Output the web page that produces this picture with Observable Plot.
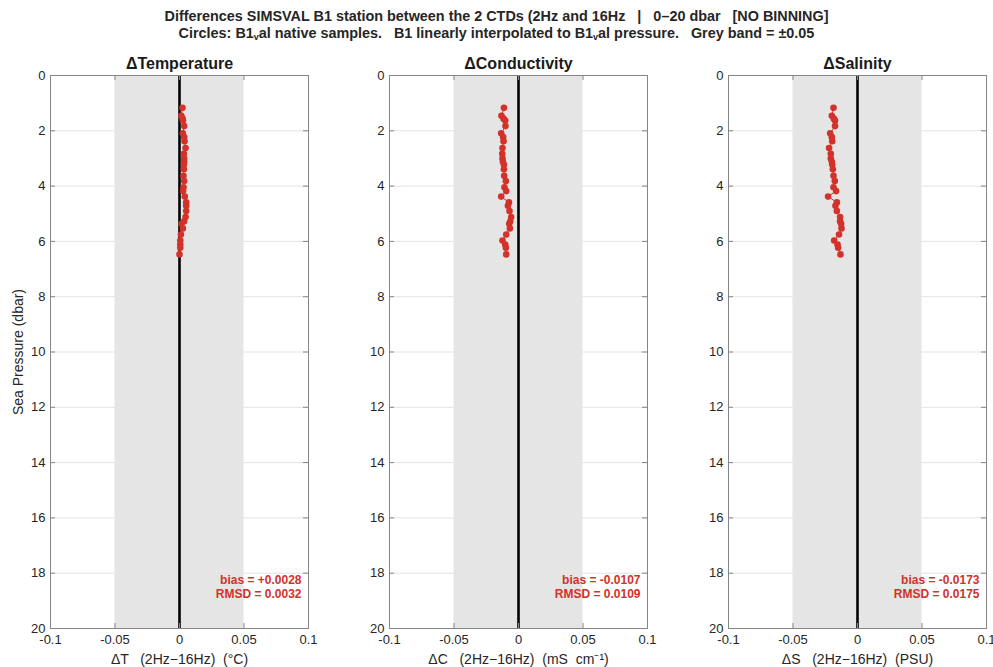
<!DOCTYPE html>
<html>
<head>
<meta charset="utf-8">
<script src="https://cdn.jsdelivr.net/npm/d3@7"></script>
<script src="https://cdn.jsdelivr.net/npm/@observablehq/plot@0.6"></script>
<style>
  html, body { margin: 0; padding: 0; background: #ffffff; }
  #wrap { position: relative; width: 993px; height: 667px; overflow: hidden; font-family: "Liberation Sans", Arial, sans-serif; color: #262626; }
  #title { position: absolute; left: 0; top: 8px; width: 993px; text-align: center; font-weight: bold; font-size: 14.4px; line-height: 17px; color: #262626; white-space: pre; }
  #title sub { font-size: 9px; vertical-align: -2px; line-height: 0; }
</style>
</head>
<body>
<div id="wrap">
  <div id="title">Differences SIMSVAL B1 station between the 2 CTDs (2Hz and 16Hz   |   0–20 dbar   [NO BINNING]
Circles: B1<sub>v</sub>al native samples.   B1 linearly interpolated to B1<sub>v</sub>al pressure.   Grey band = ±0.05</div>
</div>
<script>
// ---- data ----
const pressure = [1.17,1.46,1.56,1.63,1.83,2.09,2.23,2.38,2.62,2.83,3.00,3.12,3.22,3.39,3.63,3.82,4.04,4.18,4.38,4.59,4.71,4.90,5.12,5.27,5.36,5.53,5.75,5.97,6.11,6.23,6.47];
const dTemp = [0.0023,0.0014,0.0024,0.0027,0.0036,0.0026,0.0036,0.0039,0.0047,0.0034,0.0036,0.0036,0.0034,0.0034,0.0031,0.0036,0.0031,0.0028,0.0041,0.0052,0.0052,0.0052,0.0047,0.0036,0.0016,0.0026,0.0011,0.0006,0.0006,0.0006,0.0000];
const dCond = [-0.0113,-0.0132,-0.0116,-0.0103,-0.0101,-0.0134,-0.0119,-0.0116,-0.0124,-0.0126,-0.0124,-0.0121,-0.0113,-0.0113,-0.0111,-0.0098,-0.0109,-0.0095,-0.0134,-0.0074,-0.0082,-0.0070,-0.0057,-0.0064,-0.0072,-0.0067,-0.0095,-0.0124,-0.0103,-0.0098,-0.0095];
const dSal = [-0.0186,-0.0199,-0.0184,-0.0174,-0.0174,-0.0212,-0.0199,-0.0196,-0.0220,-0.0207,-0.0207,-0.0199,-0.0196,-0.0191,-0.0186,-0.0176,-0.0186,-0.0166,-0.0228,-0.0160,-0.0171,-0.0160,-0.0135,-0.0135,-0.0127,-0.0124,-0.0143,-0.0181,-0.0155,-0.0150,-0.0132];
const panelTitles = ["ΔTemperature", "ΔConductivity", "ΔSalinity"];
const xLabels = ["ΔT   (2Hz−16Hz)  (°C)", "ΔC   (2Hz−16Hz)  (mS  cm⁻¹)", "ΔS   (2Hz−16Hz)  (PSU)"];
const biasLabels = ["bias = +0.0028", "bias = -0.0107", "bias = -0.0173"];
const rmsdLabels = ["RMSD = 0.0032", "RMSD = 0.0109", "RMSD = 0.0175"];
const xTicks = [-0.1, -0.05, 0, 0.05, 0.1];
const yTicks = [0, 2, 4, 6, 8, 10, 12, 14, 16, 18, 20];
const bandHalf = 0.05;
const yLabel = "Sea Pressure (dbar)";

// ---- layout ----
const series = [dTemp, dCond, dSal];
const lefts = [0, 331, 662];
const marginLefts = [50, 58, 66];
const plotW = 258, plotH = 553, svgW = 331, svgH = 617;
const red = "#d2322a";
const frameColor = "#858585";
const font = "'Liberation Sans', Arial, sans-serif";

const wrap = document.getElementById("wrap");
series.forEach((vals, i) => {
  const data = pressure.map((p, k) => ({p, v: vals[k]}));
  const L = marginLefts[i];
  const marks = [
    Plot.gridY(yTicks, {stroke: "#e3e3e3", strokeOpacity: 1}),
    Plot.rect([{a: -bandHalf, b: bandHalf}], {x1: "a", x2: "b", y1: () => yTicks[0], y2: () => yTicks[yTicks.length - 1], fill: "#e5e5e5"}),
    Plot.ruleX([0], {stroke: "#000", strokeWidth: 2.6}),
    Plot.line(data, {x: "v", y: "p", stroke: red, strokeWidth: 1}),
    Plot.dot(data, {x: "v", y: "p", r: 3.3, fill: red, stroke: "none"}),
    Plot.tickY(yTicks, {y: d => d, stroke: frameColor, insetRight: plotW - 5}),
    Plot.tickY(yTicks, {y: d => d, stroke: frameColor, insetLeft: plotW - 5}),
    Plot.tickX(xTicks, {x: d => d, stroke: frameColor, insetBottom: plotH - 5}),
    Plot.tickX(xTicks, {x: d => d, stroke: frameColor, insetTop: plotH - 5}),
    Plot.frame({stroke: frameColor, strokeWidth: 1}),
    Plot.axisX(xTicks, {tickSize: 0, tickPadding: 6, tickFormat: d => String(d), fontSize: 13, fill: "#262626", label: null}),
    Plot.axisY(yTicks, {tickSize: 0, tickPadding: 5, fontSize: 13, fill: "#262626", label: null}),
    Plot.text([panelTitles[i]], {text: d => d, frameAnchor: "top", lineAnchor: "middle", dy: -12, fontSize: 16, fontWeight: "bold", fill: "#1a1a1a"}),
    Plot.text([xLabels[i]], {text: d => d, frameAnchor: "bottom", lineAnchor: "middle", dy: 31, fontSize: 14, fill: "#262626"}),
    Plot.text([biasLabels[i]], {text: d => d, frameAnchor: "bottom-right", lineAnchor: "middle", dx: -7, dy: -48, textAnchor: "end", fontSize: 12, fontWeight: "bold", fill: red}),
    Plot.text([rmsdLabels[i]], {text: d => d, frameAnchor: "bottom-right", lineAnchor: "middle", dx: -7, dy: -34, textAnchor: "end", fontSize: 12, fontWeight: "bold", fill: red})
  ];
  if (i === 0) {
    marks.push(Plot.text([yLabel], {text: d => d, frameAnchor: "left", textAnchor: "middle", lineAnchor: "middle", dx: -32, rotate: -90, fontSize: 14, fill: "#262626"}));
  }
  const chart = Plot.plot({
    width: svgW, height: svgH,
    marginLeft: L, marginRight: svgW - L - plotW, marginTop: 25, marginBottom: svgH - 25 - plotH,
    x: {domain: [-0.1, 0.1]},
    y: {domain: [0, 20], reverse: true},
    style: {fontFamily: font, fontSize: "13px", color: "#262626", background: "transparent", overflow: "visible"},
    marks
  });
  chart.style.position = "absolute";
  chart.style.left = lefts[i] + "px";
  chart.style.top = "50px";
  wrap.appendChild(chart);
});
</script>
</body>
</html>
